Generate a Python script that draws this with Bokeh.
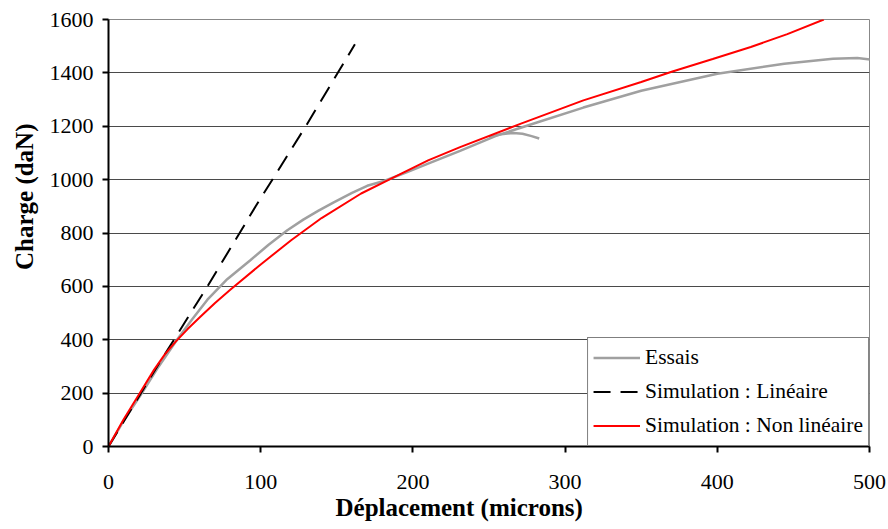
from bokeh.plotting import figure
from bokeh.models import Range1d, FixedTicker, Title
from bokeh.embed import file_html
from bokeh.resources import INLINE

# ---- data ----
x_ticks = [0, 100, 200, 300, 400, 500]
y_ticks = [0, 200, 400, 600, 800, 1000, 1200, 1400, 1600]

essais_x = [0, 10, 21, 33, 45, 55, 65, 78, 93, 105, 117.5, 128, 138, 148, 160, 170, 181, 195, 210, 231, 255, 282, 312, 350, 400, 444, 476, 492, 505]
essais_y = [0, 97, 192, 300, 400, 477, 550, 627, 697, 755, 810, 850, 884, 915, 950, 977, 995, 1025, 1060, 1108, 1165, 1215, 1270, 1333, 1397, 1434, 1453, 1456, 1447]

essais2_x = [250, 258, 266, 272, 278, 283]
essais2_y = [1160, 1170, 1175, 1172, 1163, 1154]

lin_x = [0, 32, 65, 96.7, 129.6, 161.9]
lin_y = [0, 300, 600, 900, 1200, 1507]

nonlin_x = [0, 10, 20, 30, 37, 44, 52, 60, 70, 80, 100, 120, 140, 166, 188, 210, 231, 271, 312, 350, 370, 397, 422, 446, 470]
nonlin_y = [0, 102, 195, 288, 345, 392, 440, 484, 538, 587, 682, 773, 856, 948, 1010, 1072, 1122, 1210, 1297, 1366, 1404, 1452, 1497, 1545, 1600]

SERIF = "Liberation Serif"

p = figure(width=888, height=529,
           x_range=Range1d(0, 500), y_range=Range1d(0, 1600),
           output_backend="svg", toolbar_location=None,
           min_border_left=108, min_border_right=19,
           min_border_top=19, min_border_bottom=83)

p.background_fill_color = "white"
p.border_fill_color = "white"
p.outline_line_color = "#888888"
p.outline_line_width = 1

# axes
p.xaxis.ticker = FixedTicker(ticks=x_ticks)
p.yaxis.ticker = FixedTicker(ticks=y_ticks)
for ax in (p.xaxis[0], p.yaxis[0]):
    ax.axis_line_color = "black"
    ax.axis_line_width = 2
    ax.major_tick_line_color = "black"
    ax.major_tick_line_width = 2
    ax.major_tick_out = 6
    ax.major_tick_in = 0
    ax.minor_tick_line_color = None
    ax.major_label_text_font = SERIF
    ax.major_label_text_font_size = "22px"
    ax.major_label_text_color = "black"
p.yaxis.major_label_standoff = 9
p.xaxis.major_label_standoff = 22

p.xgrid.grid_line_color = None
p.ygrid.grid_line_color = "#4a4a4a"
p.ygrid.grid_line_width = 1

# series
p.line(essais_x, essais_y, line_color="#a0a0a0", line_width=2.5, legend_label="Essais")
p.line(essais2_x, essais2_y, line_color="#a0a0a0", line_width=2.5)
p.line(lin_x, lin_y, line_color="black", line_width=2, line_dash="17 10",
       legend_label="Simulation : Linéaire")
p.line(nonlin_x, nonlin_y, line_color="#ff0000", line_width=2,
       legend_label="Simulation : Non linéaire")

# legend
lg = p.legend[0]
lg.location = "bottom_right"
lg.margin = 0
lg.padding = 5
lg.spacing = 5
lg.label_height = 29
lg.glyph_height = 29
lg.glyph_width = 47
lg.label_standoff = 5
lg.border_line_color = "black"
lg.border_line_width = 1
lg.background_fill_color = "white"
lg.background_fill_alpha = 1
lg.label_text_font = SERIF
lg.label_text_font_size = "21.5px"
lg.label_text_color = "black"

# axis titles, positioned like the reference
p.add_layout(Title(text="Déplacement (microns)", align="left", offset=227,
                   standoff=0, text_font=SERIF, text_font_size="25px",
                   text_font_style="bold", text_color="black"), "below")
p.add_layout(Title(text="Charge (daN)", align="right", offset=104,
                   standoff=17, text_font=SERIF, text_font_size="25px",
                   text_font_style="bold", text_color="black"), "left")

open("out.html", "w").write(file_html(p, INLINE))
